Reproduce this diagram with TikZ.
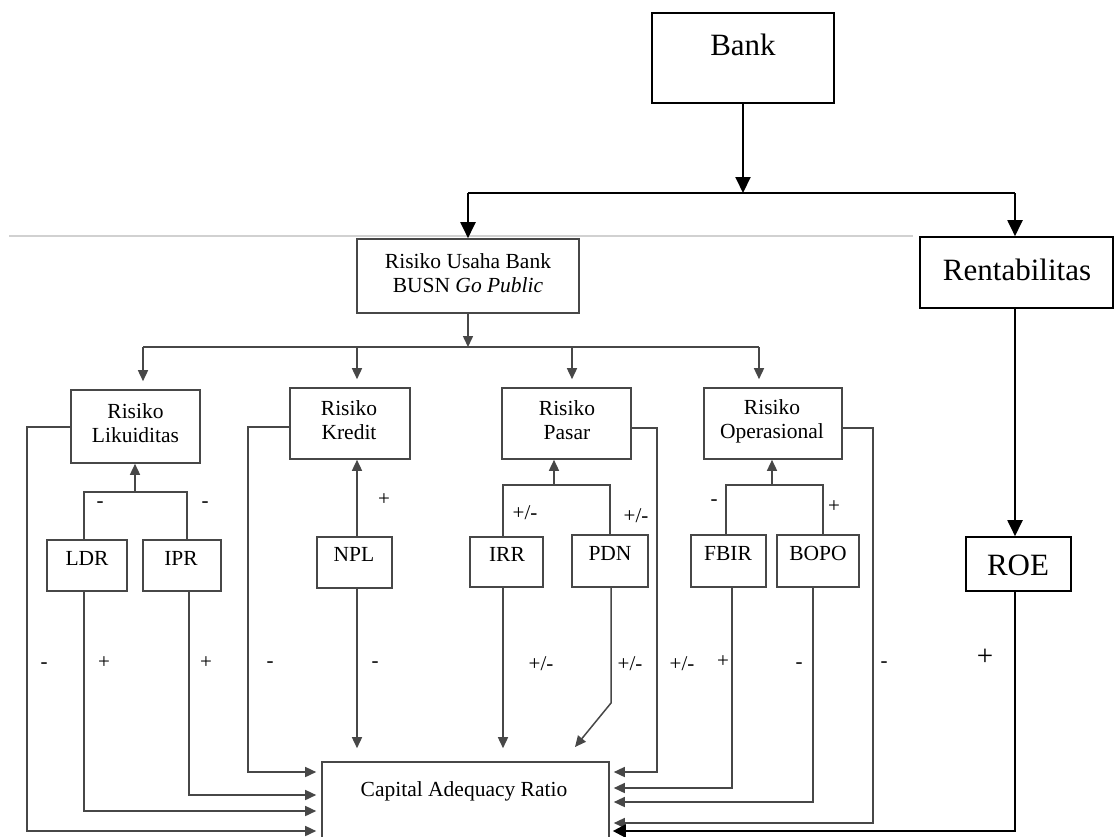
\documentclass[tikz,border=0pt]{standalone}
\usepackage{fontspec}
\setmainfont{Liberation Serif}
\usetikzlibrary{arrows.meta,calc}
\begin{document}
\begin{tikzpicture}[x=1pt,y=-1pt,
  topbox/.style={draw=black,line width=1.6pt,inner sep=0pt},
  midbox/.style={draw=black!72,line width=1.6pt,inner sep=0pt},
  bigtxt/.style={font=\fontsize{31}{35}\selectfont,inner sep=0pt},
  smalltxt/.style={font=\fontsize{21.5}{24}\selectfont,inner sep=0pt,align=center},
  signtxt/.style={font=\fontsize{21}{24}\selectfont,inner sep=0pt},
  bigsign/.style={font=\fontsize{29}{31}\selectfont,inner sep=0pt},
  thickconn/.style={draw=black,line width=2pt},
  conn/.style={draw=black!72,line width=1.5pt},
  bigarr/.style={-{Triangle[width=15pt,length=16pt]}},
  smallarr/.style={-{Triangle[width=10pt,length=11pt]}},
  roearr/.style={-{Triangle[width=13pt,length=13pt]}},
  sepline/.style={draw=black!18,line width=1.2pt}
]
\useasboundingbox (0,0) rectangle (1115,836);
\fill[white] (0,0) rectangle (1115,836);
\clip (0,0) rectangle (1115,836);

% separator line
\draw[sepline] (9,236) -- (913,236);

% boxes
\node[topbox,minimum width=182pt,minimum height=90pt] (bank) at (743,58) {};
\node[bigtxt] (bankT) at (743,45) {Bank};
\node[midbox,minimum width=222pt,minimum height=74pt] (usaha) at (468,276) {};
\node[smalltxt] (usahaT) at (468,273) {Risiko Usaha Bank\\BUSN \textit{Go Public}};
\node[topbox,minimum width=193pt,minimum height=71pt] (rent) at (1016.5,272.5) {};
\node[bigtxt] (rentT) at (1017,270) {Rentabilitas};

\node[midbox,minimum width=129pt,minimum height=73pt] (lik) at (135.5,426.5) {};
\node[smalltxt] (likT) at (135.5,423) {Risiko\\Likuiditas};
\node[midbox,minimum width=120pt,minimum height=71pt] (kre) at (350,423.5) {};
\node[smalltxt] (kreT) at (349,420) {Risiko\\Kredit};
\node[midbox,minimum width=129pt,minimum height=71pt] (pas) at (566.5,423.5) {};
\node[smalltxt] (pasT) at (567,420) {Risiko\\Pasar};
\node[midbox,minimum width=138pt,minimum height=71pt] (ops) at (773,423.5) {};
\node[smalltxt] (opsT) at (772,421) {Risiko\\Operasional};

\node[midbox,minimum width=80pt,minimum height=51pt] (ldr) at (87,565.5) {};
\node[smalltxt] (ldrT) at (87,558) {LDR};
\node[midbox,minimum width=78pt,minimum height=51pt] (ipr) at (182,565.5) {};
\node[smalltxt] (iprT) at (181,558) {IPR};
\node[midbox,minimum width=75pt,minimum height=51pt] (npl) at (354.5,562.5) {};
\node[smalltxt] (nplT) at (354,554) {NPL};
\node[midbox,minimum width=73pt,minimum height=50pt] (irr) at (506.5,562) {};
\node[smalltxt] (irrT) at (507,554) {IRR};
\node[midbox,minimum width=76pt,minimum height=52pt] (pdn) at (610,561) {};
\node[smalltxt] (pdnT) at (610,553) {PDN};
\node[midbox,minimum width=75pt,minimum height=52pt] (fbir) at (728.5,561) {};
\node[smalltxt] (fbirT) at (728,553) {FBIR};
\node[midbox,minimum width=82pt,minimum height=52pt] (bopo) at (818,561) {};
\node[smalltxt] (bopoT) at (818,553) {BOPO};
\node[topbox,minimum width=105pt,minimum height=54pt] (roe) at (1018.5,564) {};
\node[bigtxt] (roeT) at (1018,565) {ROE};

\node[midbox,minimum width=287pt,minimum height=108pt] (car) at (465.5,816) {};
\node[smalltxt] (carT) at (464,791) {Capital Adequacy Ratio};

% top connectors
\coordinate (bus1) at (743,193);
\coordinate (bus1L) at (468,193);
\coordinate (bus1R) at (1015,193);
\draw[thickconn,bigarr] (bank.south) -- (bus1);
\draw[thickconn] (bus1L) -- (bus1R);
\draw[thickconn,bigarr] (bus1L) -- (bus1L |- usaha.north);
\draw[thickconn,bigarr] (bus1R) -- (bus1R |- rent.north);

% risk bus
\coordinate (bus2) at (468,347);
\coordinate (b2L) at (143,347);
\coordinate (b2K) at (357,347);
\coordinate (b2P) at (572,347);
\coordinate (b2R) at (759,347);
\draw[conn,smallarr] (usaha.south) -- (bus2);
\draw[conn] (b2L) -- (b2R);
\draw[conn,smallarr,shorten >=8pt] (b2L) -- (b2L |- lik.north);
\draw[conn,smallarr,shorten >=8pt] (b2K) -- (b2K |- kre.north);
\draw[conn,smallarr,shorten >=8pt] (b2P) -- (b2P |- pas.north);
\draw[conn,smallarr,shorten >=8pt] (b2R) -- (b2R |- ops.north);

% brackets up to risk boxes
\coordinate (lkA) at (84,492);
\coordinate (lkB) at (187,492);
\coordinate (lkM) at (135,492);
\draw[conn] (lkA |- ldr.north) -- (lkA) -- (lkB) -- (lkB |- ipr.north);
\draw[conn,smallarr] (lkM) -- (lkM |- lik.south);

\coordinate (nx) at (357,500);
\draw[conn,smallarr] (nx |- npl.north) -- (nx |- kre.south);

\coordinate (psA) at (503,485);
\coordinate (psB) at (610,485);
\coordinate (psM) at (554,485);
\draw[conn] (psA |- irr.north) -- (psA) -- (psB) -- (psB |- pdn.north);
\draw[conn,smallarr] (psM) -- (psM |- pas.south);

\coordinate (opA) at (726,485);
\coordinate (opB) at (823,485);
\coordinate (opM) at (772,485);
\draw[conn] (opA |- fbir.north) -- (opA) -- (opB) -- (opB |- bopo.north);
\draw[conn,smallarr] (opM) -- (opM |- ops.south);

% to CAR, left side
\coordinate (ldrC) at (84,811);
\coordinate (iprC) at (189,795);
\coordinate (lkF0) at (27,427);
\coordinate (lkF) at (27,831);
\coordinate (kF0) at (248,427);
\coordinate (kF) at (248,772);
\draw[conn,smallarr,shorten >=5pt] (ldrC |- ldr.south) -- (ldrC) -- (ldrC -| car.west);
\draw[conn,smallarr,shorten >=5pt] (iprC |- ipr.south) -- (iprC) -- (iprC -| car.west);
\draw[conn,smallarr,shorten >=5pt] (lkF0 -| lik.west) -- (lkF0) -- (lkF) -- (lkF -| car.west);
\draw[conn,smallarr,shorten >=5pt] (kF0 -| kre.west) -- (kF0) -- (kF) -- (kF -| car.west);

% to CAR, top
\coordinate (irx) at (503,700);
\draw[conn,smallarr,shorten >=13pt] (nx |- npl.south) -- (nx |- car.north);
\draw[conn,smallarr,shorten >=13pt] (irx |- irr.south) -- (irx |- car.north);
\coordinate (pdA) at (611,703);
\coordinate (pdB) at (575,747);
\draw[conn,smallarr] (pdA |- pdn.south) -- (pdA) -- (pdB);

% to CAR, right side
\coordinate (pF0) at (657,428);
\coordinate (pF) at (657,772);
\coordinate (fC) at (732,788);
\coordinate (bC) at (813,802);
\coordinate (oF0) at (873,428);
\coordinate (oF) at (873,823);
\coordinate (rC) at (1015,831);
\draw[conn,smallarr,shorten >=4pt] (pF0 -| pas.east) -- (pF0) -- (pF) -- (pF -| car.east);
\draw[conn,smallarr,shorten >=4pt] (fC |- fbir.south) -- (fC) -- (fC -| car.east);
\draw[conn,smallarr,shorten >=4pt] (bC |- bopo.south) -- (bC) -- (bC -| car.east);
\draw[conn,smallarr,shorten >=4pt] (oF0 -| ops.east) -- (oF0) -- (oF) -- (oF -| car.east);
\draw[thickconn,line width=2.4pt,roearr,shorten >=3pt] (rC |- roe.south) -- (rC) -- (rC -| car.east);
\draw[thickconn,bigarr] (rC |- rent.south) -- (rC |- roe.north);

% signs
\node[signtxt] (s1) at (100,505) {-};
\node[signtxt] (s2) at (205,505) {-};
\node[signtxt] (s3) at (384,500) {+};
\node[signtxt] (s4) at (525,513) {+/-};
\node[signtxt] (s5) at (636,516) {+/-};
\node[signtxt] (s6) at (714,503) {-};
\node[signtxt] (s7) at (834,507) {+};
\node[signtxt] (s8) at (44,666) {-};
\node[signtxt] (s9) at (104,663) {+};
\node[signtxt] (s10) at (206,663) {+};
\node[signtxt] (s11) at (270,665) {-};
\node[signtxt] (s12) at (375,665) {-};
\node[signtxt] (s13) at (541,664) {+/-};
\node[signtxt] (s14) at (630,664) {+/-};
\node[signtxt] (s15) at (682,664) {+/-};
\node[signtxt] (s16) at (723,662) {+};
\node[signtxt] (s17) at (799,666) {-};
\node[signtxt] (s18) at (884,665) {-};
\node[bigsign] (s19) at (985,657) {+};
\end{tikzpicture}
\end{document}
